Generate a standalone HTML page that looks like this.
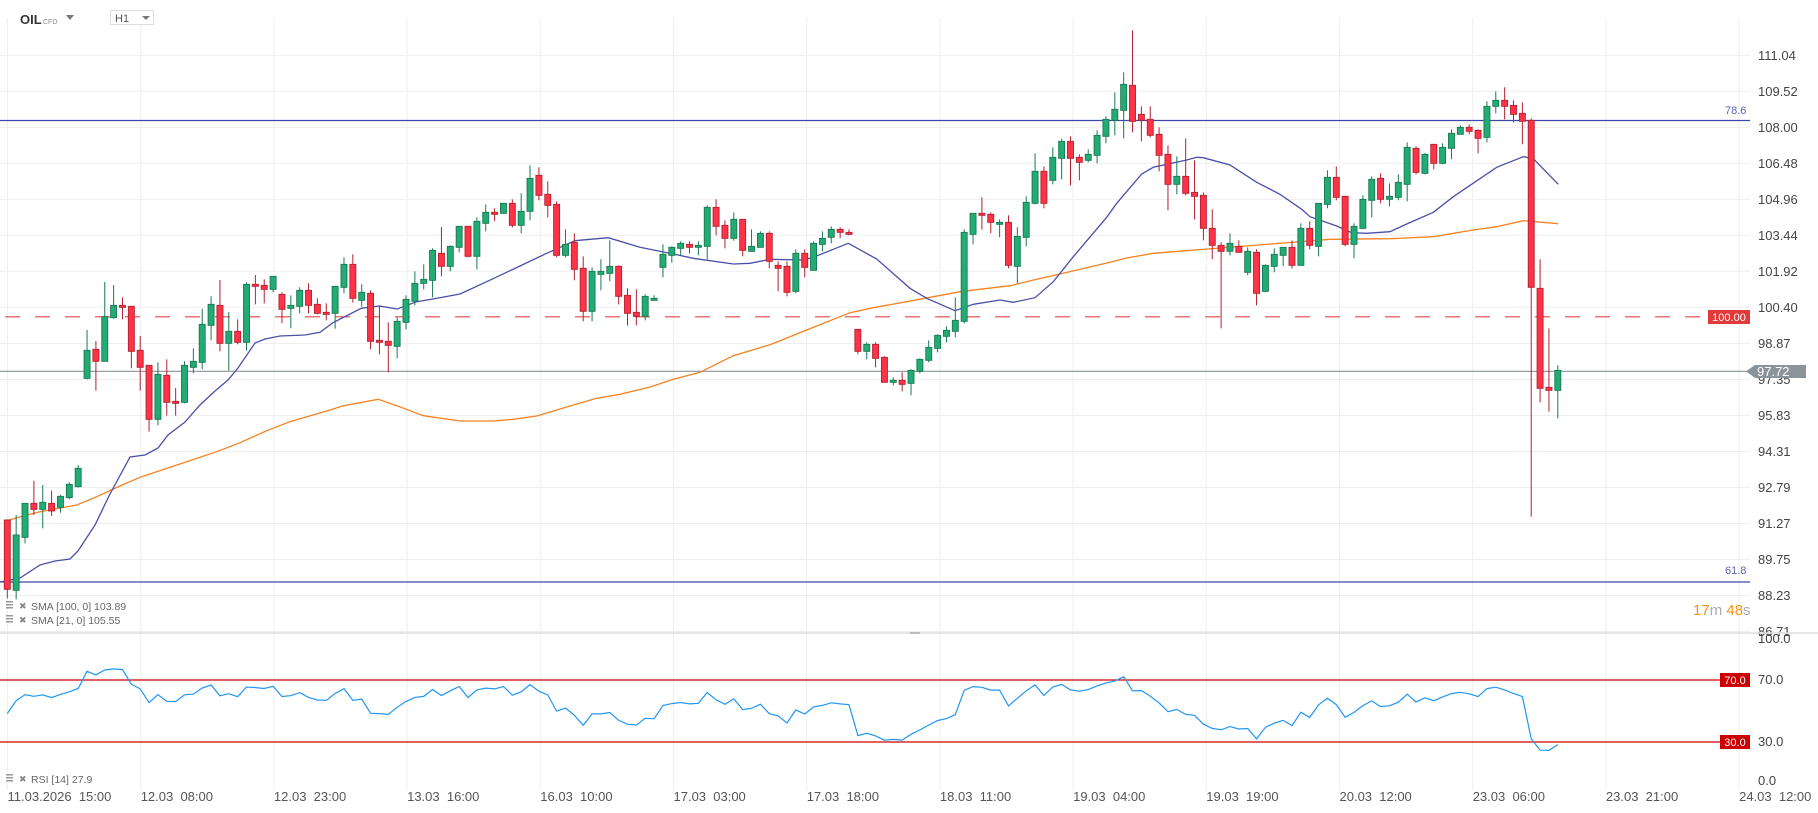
<!DOCTYPE html>
<html><head><meta charset="utf-8"><style>
html,body{margin:0;padding:0;background:#fff;}
svg{display:block;font-family:"Liberation Sans",sans-serif;}
</style></head><body>
<svg id="s" width="1818" height="813" xmlns="http://www.w3.org/2000/svg"></svg>
<script>
const S=document.getElementById('s');let h='';
const PY=p=>307.3+(100.40-p)*23.68;
const plabels=["111.04","109.52","108.00","106.48","104.96","103.44","101.92","100.40","98.87","97.35","95.83","94.31","92.79","91.27","89.75","88.23","86.71"];
plabels.forEach(l=>{const y=PY(+l);h+=`<line x1="0" x2="1750" y1="${y}" y2="${y}" stroke="#efefef" stroke-width="1"/>`;});
for(let k=0;k<14;k++){const x=7.5+133.2*k;h+=`<line x1="${x}" x2="${x}" y1="18" y2="790" stroke="#efefef" stroke-width="1"/>`;}
h+=`<line x1="0" x2="1750" y1="120.5" y2="120.5" stroke="#3d46a8" stroke-width="1.2"/>`;
h+=`<line x1="0" x2="1750" y1="582" y2="582" stroke="#3d46a8" stroke-width="1.2"/>`;
h+=`<line x1="5" x2="1710" y1="316.8" y2="316.8" stroke="#e64646" stroke-width="1.2" stroke-dasharray="15,15"/>`;
h+=`<line x1="0" x2="1750" y1="371.3" y2="371.3" stroke="#8a9499" stroke-width="1.2"/>`;
const b21=[[0,582],[20,578],[40,565],[55,561],[70,559],[78,551],[95,525],[110,494],[130,457],[145,455],[158,448],[168,435],[185,422],[200,405],[215,391],[228,380],[238,368],[255,343],[265,339],[280,336],[305,335],[320,332.3],[333,322.7],[361.3,308.3],[379.3,306],[397.3,309],[416.7,301.7],[433,299],[460,294],[486.7,281.7],[520,266],[546.7,253.3],[575,240.7],[608.3,237.7],[640,247.3],[673.3,254],[693.3,258.3],[733.3,264],[750,263.3],[770,259.3],[803.3,260],[813.3,257.3],[848.3,243.3],[876.7,259],[910,288.3],[926.7,298.3],[955,310.7],[973.3,304.3],[1000,300],[1013.3,302.3],[1035,297.7],[1053.3,281.7],[1073.3,256.7],[1106.7,217.3],[1116.7,203.3],[1141.7,174],[1153.3,167.3],[1186.7,160],[1196.7,157.3],[1203.3,157.7],[1230,165],[1256.7,182.3],[1280,194.3],[1301.7,209.3],[1310,216.7],[1336.7,226],[1351.7,232.7],[1366.7,233.3],[1390,231.7],[1406.7,224],[1433.3,212.3],[1453.3,196.7],[1496.7,167.3],[1523.3,156.7],[1533.3,158.7],[1558.3,184.3]];
const o100=[[6.7,520.7],[23.3,516],[40,511.7],[76.7,505],[96.7,496.7],[120,486],[140,477.3],[156.7,471.7],[186.7,461.7],[216.7,451.7],[240,442.7],[266.7,430.7],[290,421.7],[330,410],[343.3,405.7],[378.3,399.3],[396.7,405.7],[423.3,415.7],[460,421],[493.3,421],[513.3,419.3],[536.7,416],[570,406],[596.7,398.3],[620,394.3],[650,387],[673.3,379.3],[700,372.3],[733.3,355.7],[770,344.7],[806.7,330],[850,312.7],[873.3,307.7],[906.7,301.7],[960,291.7],[1010,285.7],[1036.7,279.3],[1060,274],[1110,262.3],[1126.7,258],[1153.3,253.3],[1290,242.5],[1330,239.3],[1390,238.7],[1433.3,236.7],[1473.3,230],[1496.7,226.7],[1523.3,220.7],[1558.3,223.7]];
h+=`<polyline fill="none" stroke="#f5821f" stroke-width="1.3" points="${o100.map(p=>p.join(',')).join(' ')}"/>`;
h+=`<polyline fill="none" stroke="#4a50a8" stroke-width="1.3" points="${b21.map(p=>p.join(',')).join(' ')}"/>`;
const G=[
{y0:240,d:[['r',840,1048,838,1075],['g',885,1051,825,1078],['g',790,892,790,910],['r',790,808,722,825],['g',787,808,735,865],['r',790,813,752,828],['g',769,802,765,818],['g',733,773,727,778],['g',685,740,675,743],['g',331,415,270,418],['r',328,364,303,452],['g',230,364,126,364],['g',196,233,135,236],['r',196,202,172,238],['r',199,334,199,385],['r',331,382,288,452],['r',376,538,376,575],['g',403,538,367,556],['r',406,487,358,527],['r',484,490,444,527],['g',376,487,364,490],['g',364,382,325,400],['g',253,367,206,388],['g',193,256,169,301],['r',196,310,120,334],['g',274,310,216,392],['r',274,307,238,313],['g',133,307,127,332],['r',133,139,105,193],['r',136,148,118,190],['g',109,148,109,157],['r',163,208,157,250],['g',196,205,166,265],['g',151,199,142,220],['r',151,196,130,220],['r',193,220,175,223],['r',217,223,190,241]]},
{y0:140,d:[['g',439,520,439,566],['g',373,442,352,460],['r',373,475,343,488],['g',457,481,433,500],['r',460,604,451,628],['r',601,607,496,643],['r',604,616,547,697],['g',544,619,532,655],['g',478,547,466,568],['g',430,484,394,496],['g',418,430,373,448],['g',331,421,325,472],['r',340,379,261,409],['g',319,379,316,394],['g',259,322,259,337],['r',259,349,259,352],['g',244,349,232,388],['g',217,250,193,274],['r',217,223,205,244],['g',190,220,190,220],['r',190,256,178,262],['g',214,256,160,280],['g',115,214,76,241],['r',106,166,82,181],['r',163,196,124,232],['r',193,346,184,352],['g',313,346,268,352],['r',307,388,280,421],['r',385,514,349,544],['g',394,514,382,544],['g',394,403,358,451],['g',379,400,301,424],['r',379,469,376,493],['r',466,520,445,557],['r',517,529,448,556],['g',469,529,463,541]]},
{y0:180,d:[['g',355,361,346,361],['g',223,262,193,292],['g',202,226,199,248],['g',190,205,184,226],['r',193,202,184,220],['g',196,202,184,226],['g',82,199,76,238],['r',82,139,58,166],['r',136,175,121,205],['g',118,175,97,182],['r',118,211,118,229],['g',199,214,148,214],['g',160,202,154,202],['r',160,244,154,265],['r',256,265,244,334],['r',259,337,244,349],['g',220,334,208,340],['r',220,262,208,292],['g',190,271,184,271],['g',175,193,154,214],['g',148,172,139,190],['r',148,157,142,175],['r',157,163,148,166],['r',448,514,448,523],['g',493,514,487,538],['r',493,535,487,562],['r',532,607,529,607],['g',601,607,592,616],['r',601,613,577,634],['g',571,610,568,646],['g',538,574,535,580],['g',502,541,481,547],['g',466,505,463,517],['g',451,469,439,487],['g',421,454,352,472],['g',157,424,148,430]]},
{y0:20,d:[['g',580,643,580,673],['r',580,586,532,629],['r',583,607,577,640],['g',607,613,598,652],['r',607,736,586,745],['g',649,739,622,790],['g',547,652,529,679],['g',454,550,400,553],['r',454,550,439,565],['g',412,481,382,493],['g',364,415,356,478],['r',364,415,349,496],['r',412,427,403,481],['g',403,421,388,427],['g',346,406,331,430],['g',298,349,289,370],['g',268,301,217,346],['g',193,271,157,355],['r',196,304,31,337],['r',283,301,259,364],['r',298,346,259,352],['r',343,406,322,454],['r',403,493,376,571],['g',469,493,409,523],['r',469,520,355,526],['r',517,529,421,598],['r',526,625,517,661],['r',625,676,568,718],['r',676,694,667,925],['g',670,694,640,706],['r',679,697,661,697],['g',694,757,682,766],['r',697,820,688,856],['g',736,814,733,817],['g',703,739,685,757],['g',682,706,682,739]]},
{y0:60,d:[['r',562,616,541,626],['g',505,616,490,616],['r',505,556,484,568],['g',430,559,430,589],['g',352,433,331,445],['r',352,412,319,421],['r',409,553,409,559],['g',499,553,490,595],['g',418,505,406,508],['g',358,421,349,472],['r',355,418,340,430],['g',409,418,370,439],['g',367,412,343,421],['g',262,373,247,424],['r',265,337,259,343],['g',283,340,280,343],['r',253,310,253,328],['g',262,310,250,313],['g',220,265,208,298],['g',202,223,196,223],['r',202,214,193,223],['r',211,235,208,280],['g',139,232,124,247],['g',121,139,94,160],['r',121,139,82,178],['r',136,163,121,187],['r',160,184,127,253],['r',181,682,175,1370],['r',685,985,598,1027],['r',982,991,805,1055],['g',931,991,916,1075]]}];
let i=0;const closes=[];
G.forEach(g=>g.d.forEach(c=>{
 const x=7.3+i*8.86;i++;
 const f=v=>g.y0+v/3;
 const bt=f(c[1]),bb=Math.max(f(c[2]),bt+1.5),wt=f(c[3]),wb=f(c[4]);
 const gr=c[0]=='g';
 const fill=gr?'#22ab74':'#ff3347',st=gr?'#177a52':'#b3202f';
 h+=`<line x1="${x}" x2="${x}" y1="${wt}" y2="${wb}" stroke="${st}" stroke-width="1"/>`;
 h+=`<rect x="${x-3}" y="${bt}" width="6" height="${bb-bt}" fill="${fill}" stroke="${st}" stroke-width="0.9"/>`;
 const cy=gr?bt:f(c[2]);closes.push(100.40-(cy-307.3)/23.68);
}));
plabels.forEach(l=>{h+=`<text x="1758" y="${PY(+l)+4.5}" font-size="13" fill="#444">${l}</text>`;});
h+=`<text x="1725" y="114" font-size="11" fill="#5a63b8">78.6</text>`;
h+=`<text x="1725" y="574" font-size="11" fill="#5a63b8">61.8</text>`;
h+=`<rect x="1708" y="310" width="42" height="14" fill="#e23a3a"/><text x="1729" y="321" font-size="11" fill="#fff" text-anchor="middle">100.00</text>`;
h+=`<polygon points="1746,371.3 1755,365 1806,365 1806,378 1755,378" fill="#8a9499"/><text x="1757" y="376" font-size="13" fill="#fff">97.72</text>`;
h+=`<text x="1693" y="615" font-size="15"><tspan fill="#f7931a">17</tspan><tspan fill="#aaa">m </tspan><tspan fill="#f7931a">48</tspan><tspan fill="#aaa">s</tspan></text>`;
const leg=(y,t)=>{h+=`<rect x="6" y="${y-7}" width="7" height="1.5" fill="#999"/><rect x="6" y="${y-4}" width="7" height="1.5" fill="#999"/><rect x="6" y="${y-1}" width="7" height="1.5" fill="#999"/><text x="19" y="${y+1}" font-size="9" fill="#888">✖</text><text x="31" y="${y+2}" font-size="10.5" fill="#666">${t}</text>`;};
leg(608,"SMA [100,  0]  103.89");leg(622,"SMA [21,  0]  105.55");leg(781,"RSI [14]  27.9");
h+=`<line x1="0" x2="1818" y1="633" y2="633" stroke="#ddd" stroke-width="1.5"/>`;
h+=`<rect x="910" y="632" width="10" height="2" fill="#bbb"/>`;
h+=`<line x1="0" x2="1750" y1="680" y2="680" stroke="#d00000" stroke-width="1.3"/>`;
h+=`<line x1="0" x2="1750" y1="742" y2="742" stroke="#d00000" stroke-width="1.3"/>`;
h+=`<rect x="1720" y="673" width="30" height="14" fill="#cc0000"/><text x="1735" y="684" font-size="11" fill="#fff" text-anchor="middle">70.0</text>`;
h+=`<rect x="1720" y="735" width="30" height="14" fill="#cc0000"/><text x="1735" y="746" font-size="11" fill="#fff" text-anchor="middle">30.0</text>`;
[["100.0",643],["70.0",684],["30.0",746],["0.0",785]].forEach(a=>{h+=`<text x="1758" y="${a[1]}" font-size="13" fill="#444">${a[0]}</text>`;});
let ag=0.45,al=0.48,pts=[];
for(let j=0;j<closes.length;j++){
 if(j>0){const d=closes[j]-closes[j-1];ag=(ag*13+Math.max(d,0))/14;al=(al*13+Math.max(-d,0))/14;}
 const r=100-100/(1+ag/al);pts.push([(7.3+j*8.86).toFixed(1),(788.5-r*1.55).toFixed(1)]);
}
h+=`<polyline fill="none" stroke="#2196f3" stroke-width="1.2" points="${pts.map(p=>p.join(',')).join(' ')}"/>`;
const tl=["11.03.2026  15:00","12.03  08:00","12.03  23:00","13.03  16:00","16.03  10:00","17.03  03:00","17.03  18:00","18.03  11:00","19.03  04:00","19.03  19:00","20.03  12:00","23.03  06:00","23.03  21:00","24.03  12:00"];
tl.forEach((t,k)=>{h+=`<text x="${7.5+133.2*k}" y="801" font-size="13" fill="#555" xml:space="preserve">${t}</text>`;});
h+=`<text x="20" y="24" font-size="13" font-weight="bold" fill="#333">OIL</text><text x="43" y="24" font-size="7" fill="#888">CFD</text><polygon points="66,15 74,15 70,20" fill="#777"/>`;
h+=`<rect x="110.5" y="10.5" width="43" height="14" fill="#fff" stroke="#ddd"/><text x="115" y="22" font-size="11" fill="#555">H1</text><polygon points="142,16 150,16 146,20" fill="#777"/>`;
S.innerHTML=h;
</script>
</body></html>
